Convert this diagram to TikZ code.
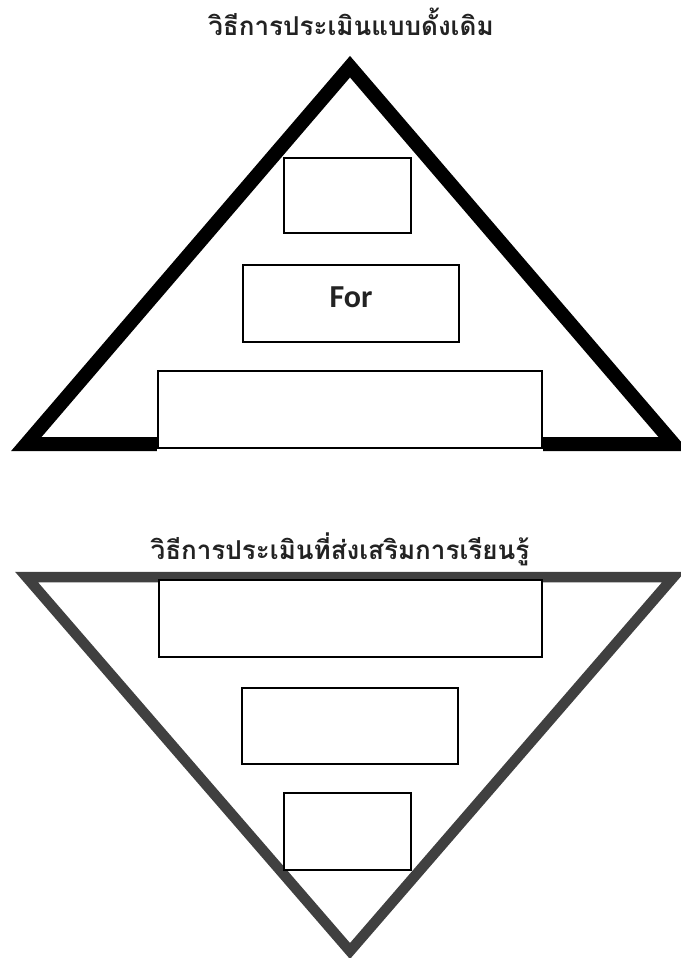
\documentclass[tikz,border=0pt]{standalone}
\usepackage{fontspec}
\newfontfamily\thaifont[Script=Thai]{Loma}
\newfontfamily\forfont{Carlito}
\definecolor{trigray}{HTML}{404040}
\definecolor{txtgray}{HTML}{222222}
\begin{document}
\begin{tikzpicture}[x=1pt,y=-1pt,
  box/.style={draw=black, line width=1.1pt, fill=white, inner sep=0pt},
  title/.style={font=\thaifont\bfseries\fontsize{26}{31}\selectfont, text=txtgray, inner sep=0pt}]
\useasboundingbox (0,0) rectangle (680,958);
% top triangle
\coordinate (ta) at (350,66.7);
\coordinate (tl) at (26.3,444);
\coordinate (tr) at (673.7,444);
\draw[line width=14pt, line join=miter, black] (ta) -- (tl) -- (tr) -- cycle;
% bottom triangle
\coordinate (bl) at (26.5,577);
\coordinate (br) at (673.5,577);
\coordinate (ba) at (350,951);
\draw[line width=10.5pt, line join=miter, trigray] (bl) -- (br) -- (ba) -- cycle;
% titles
\node[title] (title1) at (351,22) {วิธีการประเมินแบบดั้งเดิม};
\node[title] (title2) at (340,549) {วิธีการประเมินที่ส่งเสริมการเรียนรู้};
% top boxes
\node[box, minimum width=127pt, minimum height=75pt] (t1) at (347.5,195.5) {};
\node[box, minimum width=216pt, minimum height=77pt] (t2) at (351,303.5) {};
\node[box, minimum width=384pt, minimum height=77pt] (t3) at (350,409.5) {};
\fill[white] ([xshift=-0.55pt]t3.south west) rectangle ([xshift=0.55pt,yshift=-6pt]t3.south east);
\node[font=\forfont\bfseries\fontsize{32}{36}\selectfont, text=txtgray, inner sep=0pt] (for) at (351,297) {For};
% bottom boxes
\node[box, minimum width=383pt, minimum height=77pt] (b1) at (350.5,618.5) {};
\node[box, minimum width=216pt, minimum height=76pt] (b2) at (350,726) {};
\node[box, minimum width=127pt, minimum height=77pt] (b3) at (347.5,831.5) {};
\end{tikzpicture}
\end{document}
